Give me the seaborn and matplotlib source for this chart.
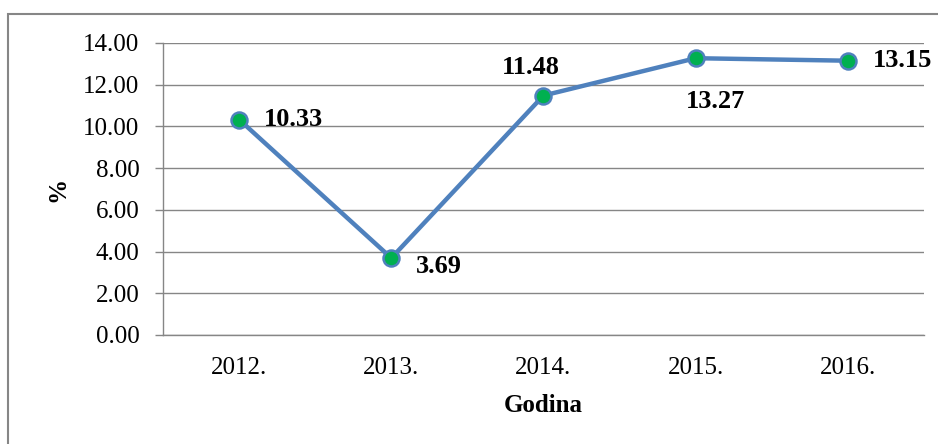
import matplotlib
matplotlib.use("Agg")
import matplotlib.pyplot as plt
import seaborn as sns
import pandas as pd
from matplotlib.patches import Rectangle

years = ["2012.", "2013.", "2014.", "2015.", "2016."]
values = [10.33, 3.69, 11.48, 13.27, 13.15]
label_offsets = [(18, 0), (18, -6), (-9, 20), (14, -31), (18, 0)]
label_ha = ["left", "left", "center", "center", "left"]

sns.set_style("white")
plt.rcParams["font.family"] = ["Liberation Serif", "DejaVu Serif"]
plt.rcParams["text.color"] = "black"
plt.rcParams["xtick.color"] = "black"
plt.rcParams["ytick.color"] = "black"
plt.rcParams["axes.labelcolor"] = "black"

df = pd.DataFrame({"year": years, "value": values})

fig = plt.figure(figsize=(9.38, 4.44), dpi=100)
ax = fig.add_axes([0.1738, 0.2455, 0.985 - 0.1738, 0.9032 - 0.2455])

sns.lineplot(data=df, x="year", y="value", ax=ax, color="#4F81BD", linewidth=3.2,
             marker="o", markersize=11.5, markerfacecolor="#00B050",
             markeredgecolor="#4F81BD", markeredgewidth=1.8, sort=False)

ax.set_xlim(-0.5, 4.5)
ax.set_ylim(0, 14)
ax.set_yticks([0, 2, 4, 6, 8, 10, 12, 14])
ax.set_yticklabels([f"{v:.2f}" for v in [0, 2, 4, 6, 8, 10, 12, 14]], fontsize=18)
ax.set_xticks(range(len(years)))
ax.set_xticklabels(years, fontsize=18)
ax.set_xticks([i - 0.5 for i in range(len(years) + 1)], minor=True)
ax.tick_params(axis="x", which="major", length=0, pad=16)
ax.tick_params(axis="x", which="minor", length=6, color="#868686", width=1)
ax.tick_params(axis="y", length=6, color="#868686", width=1, pad=11, left=True)

ax.grid(axis="y", color="#868686", linewidth=1)
ax.grid(axis="x", visible=False)
for s in ["top", "right"]:
    ax.spines[s].set_visible(False)
for s in ["left", "bottom"]:
    ax.spines[s].set_color("#868686")
    ax.spines[s].set_linewidth(1)

ax.set_xlabel("Godina", fontsize=18, fontweight="bold", labelpad=11)
ax.set_ylabel("%", fontsize=18, fontweight="bold", labelpad=10)

for i, v in enumerate(values):
    ax.annotate(f"{v:.2f}", (i, v), xytext=label_offsets[i], textcoords="offset points",
                ha=label_ha[i], va="center", fontsize=19, fontweight="bold")

fig.patches.append(Rectangle((8 / 938, -0.1), 1.2, (444 - 14) / 444 + 0.1,
                             transform=fig.transFigure, fill=False,
                             edgecolor="#868686", linewidth=1.5))

fig.savefig("out.png", dpi=100)
